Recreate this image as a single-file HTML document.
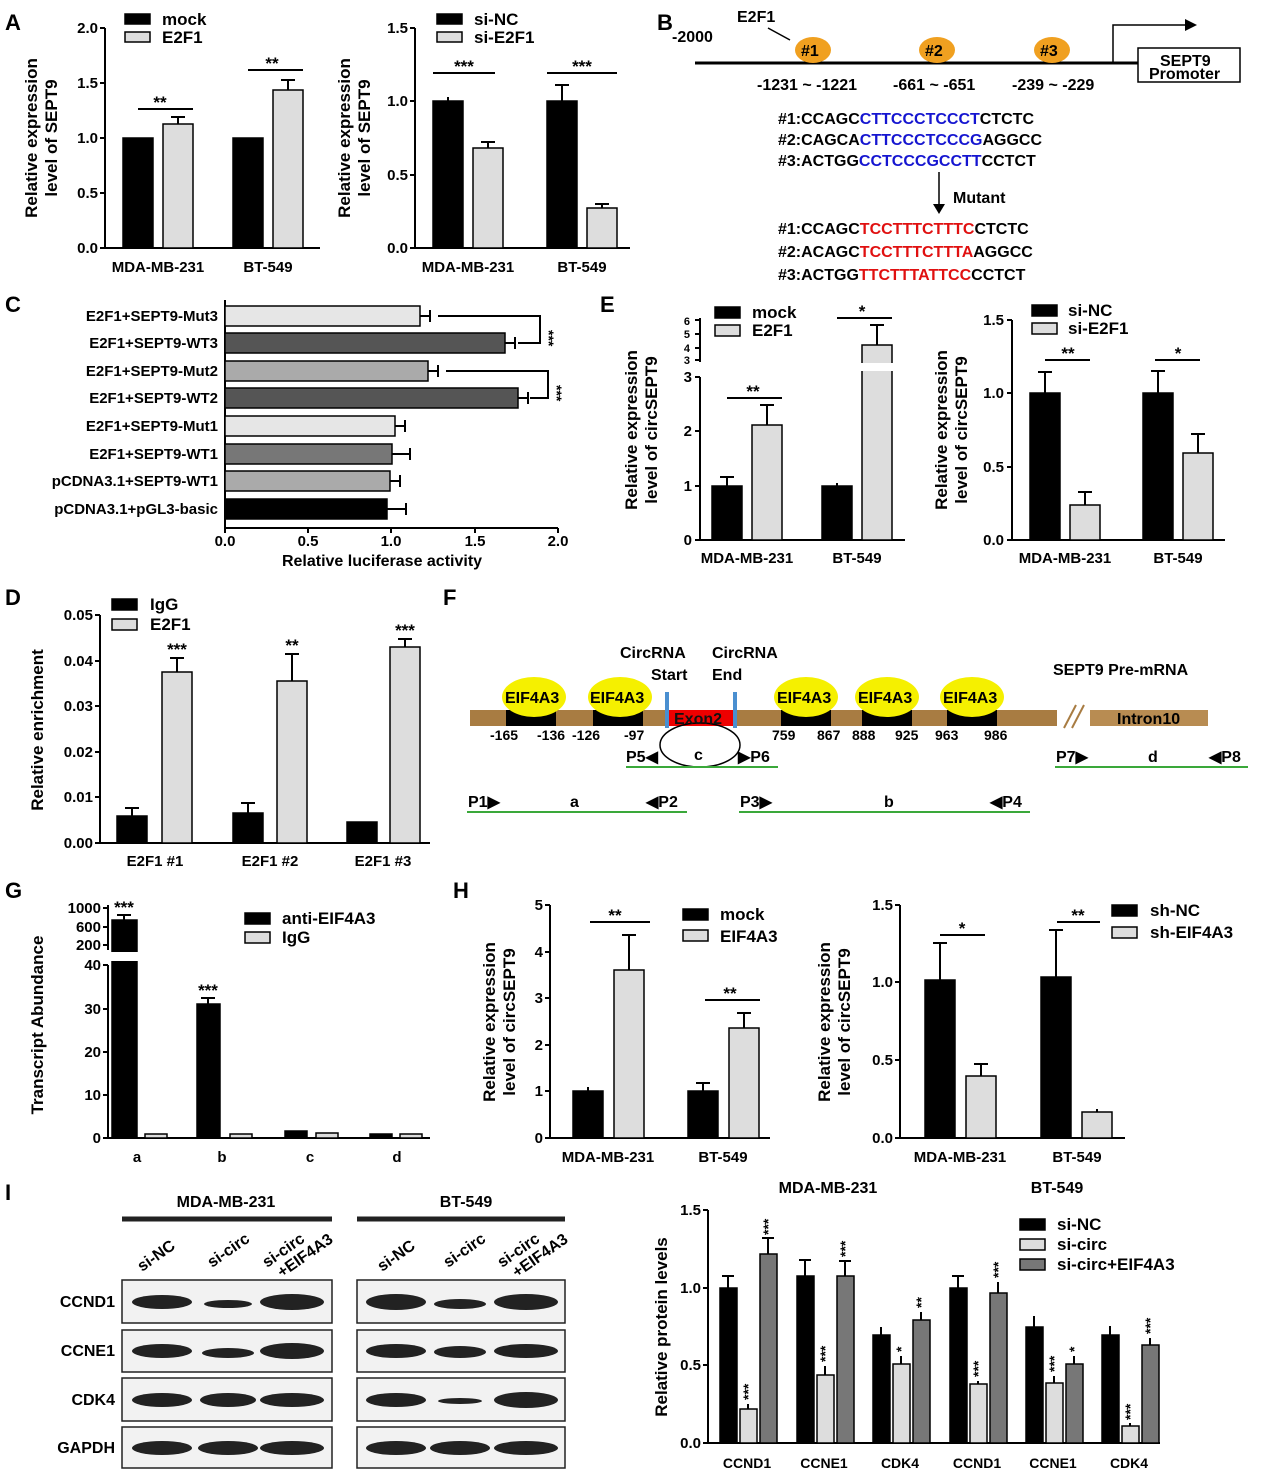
<!DOCTYPE html><html><head><meta charset="utf-8"><style>body{margin:0;background:#fff}svg{display:block;font-family:"Liberation Sans",Arial,sans-serif;font-weight:bold}</style></head><body>
<svg width="1270" height="1477" viewBox="0 0 1270 1477" xmlns="http://www.w3.org/2000/svg">
<g font-size="22" font-weight="bold"><text x="5" y="30">A</text><text x="657" y="30">B</text><text x="5" y="312">C</text><text x="600" y="312">E</text><text x="5" y="605">D</text><text x="443" y="605">F</text><text x="5" y="898">G</text><text x="453" y="898">H</text><text x="5" y="1200">I</text></g>
<g stroke="#000" stroke-width="2" fill="none">
<path d="M105 28V248H320M100 28H105M100 83H105M100 138H105M100 193H105M100 248H105"/>
<path d="M415 28V248H630M410 28H415M410 101H415M410 175H415M410 248H415"/>
<path d="M700 377V540H905M695 377H700M695 431H700M695 486H700M695 540H700M700 318V362M695 320H700M695 334H700M695 348H700M695 360H700"/>
<path d="M1012 320V540H1225M1007 320H1012M1007 393H1012M1007 467H1012M1007 540H1012"/>
<path d="M100 615V843H430M95 615H100M95 661H100M95 706H100M95 752H100M95 797H100M95 843H100"/>
<path d="M108 965V1138H430M103 965H108M103 1009H108M103 1052H108M103 1095H108M103 1138H108M108 905V950M103 908H108M103 927H108M103 945H108"/>
<path d="M550 905V1138H770M545 905H550M545 952H550M545 998H550M545 1045H550M545 1091H550M545 1138H550"/>
<path d="M900 905V1138H1125M895 905H900M895 982H900M895 1060H900M895 1138H900"/>
<path d="M708 1210V1443H1160M703 1210H708M703 1288H708M703 1365H708M703 1443H708"/>
<path d="M225 300V528H558M225 528V533M308 528V533M391 528V533M475 528V533M558 528V533"/>
</g>
<g font-size="15" text-anchor="end">
<text x="98" y="33">2.0</text><text x="98" y="88">1.5</text><text x="98" y="143">1.0</text><text x="98" y="198">0.5</text><text x="98" y="253">0.0</text>
<text x="408" y="33">1.5</text><text x="408" y="106">1.0</text><text x="408" y="180">0.5</text><text x="408" y="253">0.0</text>
<text x="692" y="382">3</text><text x="692" y="436">2</text><text x="692" y="491">1</text><text x="692" y="545">0</text><text x="690" y="325" font-size="11">6</text><text x="690" y="338" font-size="11">5</text><text x="690" y="352" font-size="11">4</text><text x="690" y="364" font-size="11">3</text>
<text x="1004" y="325">1.5</text><text x="1004" y="398">1.0</text><text x="1004" y="472">0.5</text><text x="1004" y="545">0.0</text>
<text x="93" y="620">0.05</text><text x="93" y="666">0.04</text><text x="93" y="711">0.03</text><text x="93" y="757">0.02</text><text x="93" y="802">0.01</text><text x="93" y="848">0.00</text>
<text x="101" y="970">40</text><text x="101" y="1014">30</text><text x="101" y="1057">20</text><text x="101" y="1100">10</text><text x="101" y="1143">0</text><text x="101" y="913">1000</text><text x="101" y="932">600</text><text x="101" y="950">200</text>
<text x="543" y="910">5</text><text x="543" y="957">4</text><text x="543" y="1003">3</text><text x="543" y="1050">2</text><text x="543" y="1096">1</text><text x="543" y="1143">0</text>
<text x="893" y="910">1.5</text><text x="893" y="987">1.0</text><text x="893" y="1065">0.5</text><text x="893" y="1143">0.0</text>
<text x="701" y="1215">1.5</text><text x="701" y="1293">1.0</text><text x="701" y="1370">0.5</text><text x="701" y="1448">0.0</text>
<text x="218" y="321">E2F1+SEPT9-Mut3</text><text x="218" y="348">E2F1+SEPT9-WT3</text><text x="218" y="376">E2F1+SEPT9-Mut2</text><text x="218" y="403">E2F1+SEPT9-WT2</text><text x="218" y="431">E2F1+SEPT9-Mut1</text><text x="218" y="459">E2F1+SEPT9-WT1</text><text x="218" y="486">pCDNA3.1+SEPT9-WT1</text><text x="218" y="514">pCDNA3.1+pGL3-basic</text>
</g>
<g font-size="15" text-anchor="middle">
<text x="158" y="272">MDA-MB-231</text><text x="268" y="272">BT-549</text><text x="468" y="272">MDA-MB-231</text><text x="582" y="272">BT-549</text>
<text x="225" y="546">0.0</text><text x="308" y="546">0.5</text><text x="391" y="546">1.0</text><text x="475" y="546">1.5</text><text x="558" y="546">2.0</text><text x="382" y="566" font-size="16">Relative luciferase activity</text>
<text x="747" y="563">MDA-MB-231</text><text x="857" y="563">BT-549</text><text x="1065" y="563">MDA-MB-231</text><text x="1178" y="563">BT-549</text>
<text x="155" y="866">E2F1 #1</text><text x="270" y="866">E2F1 #2</text><text x="383" y="866">E2F1 #3</text>
<text x="137" y="1162">a</text><text x="222" y="1162">b</text><text x="310" y="1162">c</text><text x="397" y="1162">d</text>
<text x="608" y="1162">MDA-MB-231</text><text x="723" y="1162">BT-549</text><text x="960" y="1162">MDA-MB-231</text><text x="1077" y="1162">BT-549</text>
<g font-size="14"><text x="747" y="1468">CCND1</text><text x="824" y="1468">CCNE1</text><text x="900" y="1468">CDK4</text><text x="977" y="1468">CCND1</text><text x="1053" y="1468">CCNE1</text><text x="1129" y="1468">CDK4</text></g>
<text x="828" y="1193" font-size="16">MDA-MB-231</text><text x="1057" y="1193" font-size="16">BT-549</text>
</g>
<g font-size="17" text-anchor="middle">
<text transform="translate(37 138) rotate(-90)">Relative expression</text><text transform="translate(57 138) rotate(-90)">level of SEPT9</text>
<text transform="translate(350 138) rotate(-90)">Relative expression</text><text transform="translate(370 138) rotate(-90)">level of SEPT9</text>
<text transform="translate(637 430) rotate(-90)">Relative expression</text><text transform="translate(657 430) rotate(-90)">level of circSEPT9</text>
<text transform="translate(947 430) rotate(-90)">Relative expression</text><text transform="translate(967 430) rotate(-90)">level of circSEPT9</text>
<text transform="translate(43 730) rotate(-90)">Relative enrichment</text>
<text transform="translate(43 1025) rotate(-90)">Transcript Abundance</text>
<text transform="translate(495 1022) rotate(-90)">Relative expression</text><text transform="translate(515 1022) rotate(-90)">level of circSEPT9</text>
<text transform="translate(830 1022) rotate(-90)">Relative expression</text><text transform="translate(850 1022) rotate(-90)">level of circSEPT9</text>
<text transform="translate(667 1327) rotate(-90)">Relative protein levels</text>
</g>
<g stroke="#000" stroke-width="1.5">
<rect x="123" y="138" width="30" height="110" fill="#000"/><rect x="163" y="124" width="30" height="124" fill="#ddd"/><rect x="233" y="138" width="30" height="110" fill="#000"/><rect x="273" y="90" width="30" height="158" fill="#ddd"/>
<rect x="433" y="101" width="30" height="147" fill="#000"/><rect x="473" y="148" width="30" height="100" fill="#ddd"/><rect x="547" y="101" width="30" height="147" fill="#000"/><rect x="587" y="208" width="30" height="40" fill="#ddd"/>
<rect x="125" y="14" width="25" height="10" fill="#000"/><rect x="125" y="32" width="25" height="10" fill="#ddd"/><rect x="437" y="14" width="25" height="10" fill="#000"/><rect x="437" y="32" width="25" height="10" fill="#ddd"/>
<rect x="715" y="307" width="25" height="11" fill="#000"/><rect x="715" y="325" width="25" height="11" fill="#ddd"/><rect x="1032" y="305" width="25" height="11" fill="#000"/><rect x="1032" y="323" width="25" height="11" fill="#ddd"/>
<rect x="112" y="599" width="25" height="11" fill="#000"/><rect x="112" y="619" width="25" height="11" fill="#ddd"/>
<rect x="245" y="913" width="25" height="11" fill="#000"/><rect x="245" y="932" width="25" height="11" fill="#ddd"/>
<rect x="683" y="909" width="25" height="11" fill="#000"/><rect x="683" y="930" width="25" height="11" fill="#ddd"/><rect x="1112" y="905" width="25" height="11" fill="#000"/><rect x="1112" y="927" width="25" height="11" fill="#ddd"/>
<rect x="1020" y="1219" width="25" height="11" fill="#000"/><rect x="1020" y="1239" width="25" height="11" fill="#ddd"/><rect x="1020" y="1259" width="25" height="11" fill="#777"/>
<rect x="225" y="306" width="195" height="20" fill="#e6e6e6"/><rect x="225" y="333" width="280" height="20" fill="#555"/><rect x="225" y="361" width="203" height="20" fill="#aaa"/><rect x="225" y="388" width="293" height="20" fill="#555"/><rect x="225" y="416" width="170" height="20" fill="#e6e6e6"/><rect x="225" y="444" width="167" height="20" fill="#777"/><rect x="225" y="471" width="165" height="20" fill="#aaa"/><rect x="225" y="499" width="162" height="20" fill="#000"/>
<rect x="712" y="486" width="30" height="54" fill="#000"/><rect x="752" y="425" width="30" height="115" fill="#ddd"/><rect x="822" y="486" width="30" height="54" fill="#000"/><rect x="862" y="345" width="30" height="195" fill="#ddd"/>
<rect x="1030" y="393" width="30" height="147" fill="#000"/><rect x="1070" y="505" width="30" height="35" fill="#ddd"/><rect x="1143" y="393" width="30" height="147" fill="#000"/><rect x="1183" y="453" width="30" height="87" fill="#ddd"/>
<rect x="117" y="816" width="30" height="27" fill="#000"/><rect x="162" y="672" width="30" height="171" fill="#ddd"/><rect x="233" y="813" width="30" height="30" fill="#000"/><rect x="277" y="681" width="30" height="162" fill="#ddd"/><rect x="347" y="822" width="30" height="21" fill="#000"/><rect x="390" y="647" width="30" height="196" fill="#ddd"/>
<rect x="112" y="920" width="25" height="218" fill="#000"/><rect x="145" y="1134" width="22" height="4" fill="#ddd"/><rect x="197" y="1004" width="23" height="134" fill="#000"/><rect x="230" y="1134" width="22" height="4" fill="#ddd"/><rect x="285" y="1131" width="22" height="7" fill="#000"/><rect x="316" y="1133" width="22" height="5" fill="#ddd"/><rect x="370" y="1134" width="22" height="4" fill="#000"/><rect x="400" y="1134" width="22" height="4" fill="#ddd"/>
<rect x="573" y="1091" width="30" height="47" fill="#000"/><rect x="614" y="970" width="30" height="168" fill="#ddd"/><rect x="688" y="1091" width="30" height="47" fill="#000"/><rect x="729" y="1028" width="30" height="110" fill="#ddd"/>
<rect x="925" y="980" width="30" height="158" fill="#000"/><rect x="966" y="1076" width="30" height="62" fill="#ddd"/><rect x="1041" y="977" width="30" height="161" fill="#000"/><rect x="1082" y="1112" width="30" height="26" fill="#ddd"/>
<rect x="720" y="1288" width="17" height="155" fill="#000"/><rect x="740" y="1409" width="17" height="34" fill="#ddd"/><rect x="760" y="1254" width="17" height="189" fill="#777"/>
<rect x="797" y="1276" width="17" height="167" fill="#000"/><rect x="817" y="1375" width="17" height="68" fill="#ddd"/><rect x="837" y="1276" width="17" height="167" fill="#777"/>
<rect x="873" y="1335" width="17" height="108" fill="#000"/><rect x="893" y="1364" width="17" height="79" fill="#ddd"/><rect x="913" y="1320" width="17" height="123" fill="#777"/>
<rect x="950" y="1288" width="17" height="155" fill="#000"/><rect x="970" y="1384" width="17" height="59" fill="#ddd"/><rect x="990" y="1293" width="17" height="150" fill="#777"/>
<rect x="1026" y="1327" width="17" height="116" fill="#000"/><rect x="1046" y="1383" width="17" height="60" fill="#ddd"/><rect x="1066" y="1364" width="17" height="79" fill="#777"/>
<rect x="1102" y="1335" width="17" height="108" fill="#000"/><rect x="1122" y="1426" width="17" height="17" fill="#ddd"/><rect x="1142" y="1345" width="17" height="98" fill="#777"/>
</g>
<rect x="855" y="363" width="45" height="8" fill="#fff"/><rect x="108" y="952" width="40" height="9" fill="#fff"/>
<g fill="none" stroke="#000" stroke-width="2">
<path d="M178 124V117M171 117H185M288 90V80M281 80H295M138 109H193M248 70H303M448 101V97M602 208V204M595 204H609M488 148V142M481 142H495M562 101V85M555 85H569M433 73H495M547 73H617"/>
<path d="M420 316H430M430 310V322M505 343H515M515 337V349M428 371H438M438 365V377M518 398H528M528 392V404M395 426H405M405 420V432M392 454H410M410 448V460M390 481H400M400 475V487M387 509H406M406 503V515M438 316H540V343H518M446 371H548V398H530"/>
<path d="M727 486V477M720 477H734M767 425V405M760 405H774M837 486V483M877 345V325M870 325H884M727 398H782M837 318H892M1045 393V372M1038 372H1052M1085 505V492M1078 492H1092M1158 393V371M1151 371H1165M1198 453V434M1191 434H1205M1045 360H1090M1155 360H1200"/>
<path d="M132 816V808M125 808H139M177 672V658M170 658H184M248 813V803M241 803H255M292 681V654M285 654H299M405 647V639M398 639H412"/>
<path d="M124 920V915M117 915H131M208 1004V998M201 998H215"/>
<path d="M629 970V935M622 935H636M703 1091V1083M696 1083H710M744 1028V1013M737 1013H751M588 1091V1087M590 922H650M705 1000H760M940 980V943M933 943H947M981 1076V1064M974 1064H988M1056 977V930M1049 930H1063M1097 1112V1109M940 935H985M1057 922H1100"/>
<path d="M728 1288V1276M722 1276H734M748 1409V1404M768 1254V1238M762 1238H774M805 1276V1260M799 1260H811M825 1375V1366M845 1276V1261M839 1261H851M881 1335V1327M901 1364V1356M921 1320V1312M958 1288V1276M952 1276H964M978 1384V1381M998 1293V1282M1034 1327V1316M1054 1383V1376M1074 1364V1356M1110 1335V1326M1130 1426V1423M1150 1345V1338"/>
</g>
<g font-size="17" text-anchor="middle">
<text x="160" y="108">**</text><text x="272" y="69">**</text><text x="464" y="72">***</text><text x="582" y="72">***</text>
<text x="753" y="397">**</text><text x="862" y="317">*</text><text x="1068" y="359">**</text><text x="1178" y="359">*</text>
<text x="177" y="655">***</text><text x="292" y="651">**</text><text x="405" y="636">***</text>
<text x="124" y="913">***</text><text x="208" y="996">***</text>
<text x="615" y="921">**</text><text x="730" y="999">**</text><text x="962" y="934">*</text><text x="1078" y="921">**</text>
</g>
<g font-size="14"><text transform="translate(544 330) rotate(90)">***</text><text transform="translate(552 385) rotate(90)">***</text>
<text transform="translate(753 1400) rotate(-90)">***</text><text transform="translate(773 1235) rotate(-90)">***</text><text transform="translate(830 1362) rotate(-90)">***</text><text transform="translate(850 1257) rotate(-90)">***</text><text transform="translate(906 1352) rotate(-90)">*</text><text transform="translate(926 1308) rotate(-90)">**</text><text transform="translate(983 1377) rotate(-90)">***</text><text transform="translate(1003 1278) rotate(-90)">***</text><text transform="translate(1059 1372) rotate(-90)">***</text><text transform="translate(1079 1352) rotate(-90)">*</text><text transform="translate(1135 1420) rotate(-90)">***</text><text transform="translate(1155 1334) rotate(-90)">***</text></g>
<g font-size="17">
<text x="162" y="25">mock</text><text x="162" y="43">E2F1</text><text x="474" y="25">si-NC</text><text x="474" y="43">si-E2F1</text>
<text x="752" y="318">mock</text><text x="752" y="336">E2F1</text><text x="1068" y="316">si-NC</text><text x="1068" y="334">si-E2F1</text>
<text x="150" y="610">IgG</text><text x="150" y="630">E2F1</text><text x="282" y="924">anti-EIF4A3</text><text x="282" y="943">IgG</text>
<text x="720" y="920">mock</text><text x="720" y="942">EIF4A3</text><text x="1150" y="916">sh-NC</text><text x="1150" y="938">sh-EIF4A3</text>
<text x="1057" y="1230">si-NC</text><text x="1057" y="1250">si-circ</text><text x="1057" y="1270">si-circ+EIF4A3</text>
</g>
<path d="M695 63H1140" stroke="#000" stroke-width="3"/>
<path d="M1113 63V25H1190" stroke="#000" stroke-width="1.5" fill="none"/><path d="M1185 19L1197 25L1185 31Z"/>
<rect x="1138" y="48" width="102" height="34" fill="#fff" stroke="#000" stroke-width="1.5"/>
<ellipse cx="813" cy="50" rx="18" ry="13" fill="#f0a020"/><ellipse cx="937" cy="50" rx="18" ry="13" fill="#f0a020"/><ellipse cx="1052" cy="50" rx="18" ry="13" fill="#f0a020"/>
<path d="M768 28L790 40" stroke="#000" stroke-width="1.5"/>
<g font-size="16"><text x="672" y="42">-2000</text><text x="737" y="22">E2F1</text><text x="801" y="56">#1</text><text x="925" y="56">#2</text><text x="1040" y="56">#3</text>
<text x="1160" y="66">SEPT9</text><text x="1149" y="79">Promoter</text>
<text x="757" y="90">-1231 ~ -1221</text><text x="893" y="90">-661 ~ -651</text><text x="1012" y="90">-239 ~ -229</text>
<text x="778" y="124">#1:CCAGC<tspan fill="#1515d0">CTTCCCTCCCT</tspan>CTCTC</text>
<text x="778" y="145">#2:CAGCA<tspan fill="#1515d0">CTTCCCTCCCG</tspan>AGGCC</text>
<text x="778" y="166">#3:ACTGG<tspan fill="#1515d0">CCTCCCGCCTT</tspan>CCTCT</text>
<text x="953" y="203">Mutant</text>
<text x="778" y="234">#1:CCAGC<tspan fill="#e01010">TCCTTTCTTTC</tspan>CTCTC</text>
<text x="778" y="257">#2:ACAGC<tspan fill="#e01010">TCCTTTCTTTA</tspan>AGGCC</text>
<text x="778" y="280">#3:ACTGG<tspan fill="#e01010">TTCTTTATTCC</tspan>CCTCT</text></g>
<path d="M939 172V208" stroke="#000" stroke-width="1.5"/><path d="M933 204L939 214L945 204Z"/>
<rect x="470" y="710" width="587" height="16" fill="#a87c42"/><rect x="1090" y="710" width="118" height="16" fill="#b88c52"/>
<path d="M1064 728L1076 705M1072 728L1084 705" stroke="#a87c42" stroke-width="2"/>
<g fill="#000"><rect x="506" y="710" width="50" height="16"/><rect x="593" y="710" width="50" height="16"/><rect x="781" y="710" width="50" height="16"/><rect x="862" y="710" width="50" height="16"/><rect x="947" y="710" width="50" height="16"/></g>
<rect x="667" y="710" width="68" height="16" fill="#e00"/>
<path d="M667 692V728M735 692V728" stroke="#4a8fd0" stroke-width="4"/>
<g fill="#f5f000"><ellipse cx="534" cy="697" rx="32" ry="20"/><ellipse cx="620" cy="697" rx="32" ry="20"/><ellipse cx="806" cy="697" rx="32" ry="20"/><ellipse cx="887" cy="697" rx="32" ry="20"/><ellipse cx="972" cy="697" rx="32" ry="20"/></g>
<ellipse cx="700" cy="745" rx="40" ry="22" fill="none" stroke="#000" stroke-width="1.5"/>
<g stroke="#3aa83a" stroke-width="2"><path d="M626 767H778M1055 767H1248M467 812H687M739 812H1030"/></g>
<g font-size="16"><text x="505" y="703">EIF4A3</text><text x="590" y="703">EIF4A3</text><text x="777" y="703">EIF4A3</text><text x="858" y="703">EIF4A3</text><text x="943" y="703">EIF4A3</text>
<text x="674" y="724" fill="#111">Exon2</text><text x="1117" y="724">Intron10</text>
<text x="620" y="658">CircRNA</text><text x="651" y="680">Start</text><text x="712" y="658">CircRNA</text><text x="712" y="680">End</text><text x="1053" y="675">SEPT9 Pre-mRNA</text>
<text x="694" y="760">c</text><text x="626" y="762">P5◀</text><text x="738" y="762">▶P6</text><text x="1056" y="762">P7▶</text><text x="1148" y="762">d</text><text x="1209" y="762">◀P8</text>
<text x="468" y="807">P1▶</text><text x="570" y="807">a</text><text x="646" y="807">◀P2</text><text x="740" y="807">P3▶</text><text x="884" y="807">b</text><text x="990" y="807">◀P4</text></g>
<g font-size="14"><text x="490" y="740">-165</text><text x="537" y="740">-136</text><text x="572" y="740">-126</text><text x="624" y="740">-97</text><text x="772" y="740">759</text><text x="817" y="740">867</text><text x="852" y="740">888</text><text x="895" y="740">925</text><text x="935" y="740">963</text><text x="984" y="740">986</text></g>
<path d="M122 1219H332M357 1219H565" stroke="#222" stroke-width="5"/>
<g font-size="16" text-anchor="middle"><text x="226" y="1207">MDA-MB-231</text><text x="466" y="1207">BT-549</text></g>
<g font-size="16"><text transform="translate(142 1272) rotate(-35)">si-NC</text><text transform="translate(212 1268) rotate(-35)">si-circ</text><text transform="translate(267 1268) rotate(-35)">si-circ</text><text transform="translate(282 1278) rotate(-35)">+EIF4A3</text>
<text transform="translate(382 1272) rotate(-35)">si-NC</text><text transform="translate(448 1268) rotate(-35)">si-circ</text><text transform="translate(502 1268) rotate(-35)">si-circ</text><text transform="translate(517 1278) rotate(-35)">+EIF4A3</text></g>
<g font-size="16" text-anchor="end"><text x="115" y="1307">CCND1</text><text x="115" y="1356">CCNE1</text><text x="115" y="1405">CDK4</text><text x="115" y="1453">GAPDH</text></g>
<g fill="#f2f2f2" stroke="#222" stroke-width="1.5"><rect x="122" y="1280" width="210" height="43"/><rect x="122" y="1330" width="210" height="42"/><rect x="122" y="1378" width="210" height="43"/><rect x="122" y="1427" width="210" height="41"/><rect x="357" y="1280" width="208" height="43"/><rect x="357" y="1330" width="208" height="42"/><rect x="357" y="1378" width="208" height="43"/><rect x="357" y="1427" width="208" height="41"/></g>
<g fill="#222">
<ellipse cx="162" cy="1302" rx="30" ry="7"/><ellipse cx="228" cy="1304" rx="24" ry="4"/><ellipse cx="292" cy="1302" rx="32" ry="8"/>
<ellipse cx="162" cy="1351" rx="30" ry="7"/><ellipse cx="228" cy="1353" rx="26" ry="5"/><ellipse cx="292" cy="1351" rx="32" ry="8"/>
<ellipse cx="162" cy="1400" rx="30" ry="7"/><ellipse cx="228" cy="1400" rx="28" ry="7"/><ellipse cx="292" cy="1400" rx="32" ry="7"/>
<ellipse cx="162" cy="1448" rx="30" ry="7"/><ellipse cx="228" cy="1448" rx="30" ry="7"/><ellipse cx="292" cy="1448" rx="32" ry="7"/>
<ellipse cx="396" cy="1302" rx="30" ry="8"/><ellipse cx="460" cy="1304" rx="26" ry="5"/><ellipse cx="526" cy="1302" rx="32" ry="8"/>
<ellipse cx="396" cy="1351" rx="30" ry="7"/><ellipse cx="460" cy="1352" rx="26" ry="6"/><ellipse cx="526" cy="1351" rx="32" ry="7"/>
<ellipse cx="396" cy="1400" rx="30" ry="7"/><ellipse cx="460" cy="1401" rx="22" ry="3"/><ellipse cx="526" cy="1400" rx="32" ry="8"/>
<ellipse cx="396" cy="1448" rx="30" ry="7"/><ellipse cx="460" cy="1448" rx="30" ry="7"/><ellipse cx="526" cy="1448" rx="32" ry="7"/>
</g>
</svg>
</body></html>
